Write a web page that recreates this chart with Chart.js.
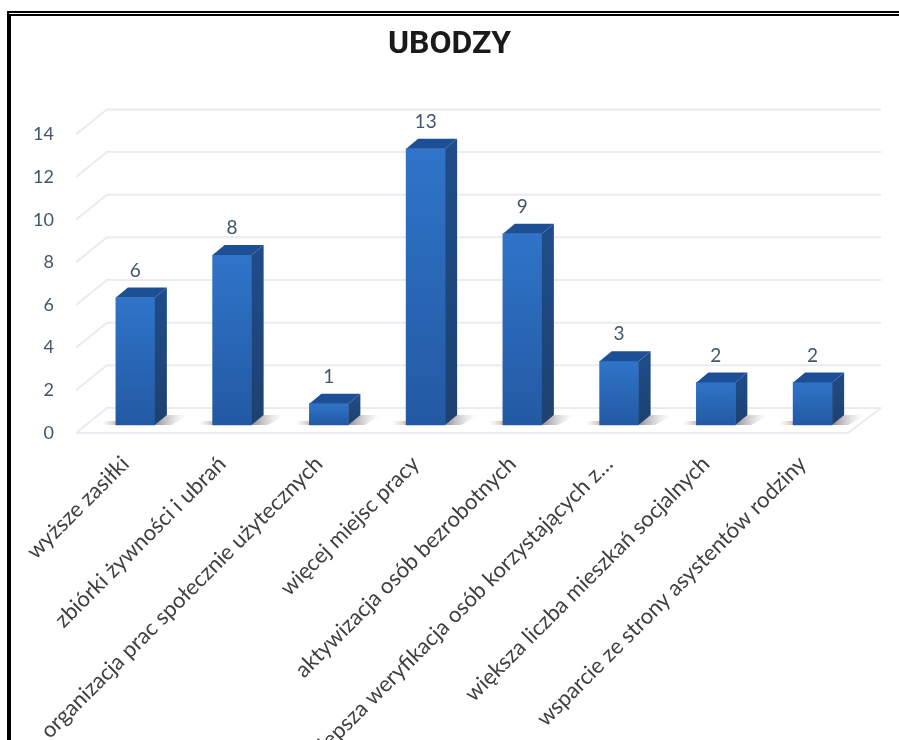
<!DOCTYPE html>
<html>
<head>
<meta charset="utf-8">
<style>
    body { margin: 0; background: #fff; overflow: hidden; }
    #frame { position: absolute; left: 7px; top: 11px; right: -10px; bottom: -10px; border-left: 4px solid #000; border-top: 5px double #000; }
    canvas { position: absolute; left: 0; top: 0; filter: blur(0.4px); }
</style>
<script src="https://cdn.jsdelivr.net/npm/chart.js@4"></script>
</head>
<body>
<canvas id="myChart" width="899" height="740"></canvas>
<div id="frame"></div>
<script>
const kategorie = [
    'wyższe zasiłki',
    'zbiórki żywności i ubrań',
    'organizacja prac społecznie użytecznych',
    'więcej miejsc pracy',
    'aktywizacja osób bezrobotnych',
    'lepsza weryfikacja osób korzystających z…',
    'większa liczba mieszkań socjalnych',
    'wsparcie ze strony asystentów rodziny'
];
const wartosci = [6, 8, 1, 13, 9, 3, 2, 2];
const tytul = 'UBODZY';
const maxOs = 14;
const krokOs = 2;

// walls and bar sides are not in chart.js, drawn here from the scales
const scena3d = {
    id: 'scena3d',
    beforeDatasetsDraw(chart) {
        const ctx = chart.ctx;
        const osY = chart.scales.y;
        const lewo = 76, tylLewo = 107, tylPrawo = 881, przodPrawo = 848, glebokosc = 25;

        ctx.save();
        ctx.strokeStyle = '#e9ebf3';
        ctx.lineWidth = 2;
        osY.ticks.forEach(function (t) {
            const y = osY.getPixelForValue(t.value);
            ctx.beginPath();
            ctx.moveTo(lewo, y);
            ctx.lineTo(tylLewo, y - glebokosc);
            ctx.lineTo(tylPrawo, y - glebokosc);
            ctx.stroke();
        });
        const y0 = osY.getPixelForValue(0);
        ctx.beginPath();
        ctx.moveTo(lewo, y0);
        ctx.lineTo(przodPrawo, y0);
        ctx.lineTo(tylPrawo, y0 - glebokosc);
        ctx.stroke();

        // bar shadows on the floor
        chart.getDatasetMeta(0).data.forEach(function (bar) {
            const p = bar.x + bar.width / 2;
            const g = ctx.createLinearGradient(p, 0, p + 32, 0);
            g.addColorStop(0, 'rgba(70,60,70,0.6)');
            g.addColorStop(1, 'rgba(190,180,180,0)');
            ctx.fillStyle = g;
            ctx.beginPath();
            ctx.moveTo(p, bar.base);
            ctx.lineTo(p + 11, bar.base - 10);
            ctx.lineTo(p + 34, bar.base - 10);
            ctx.lineTo(p + 16, bar.base);
            ctx.closePath();
            ctx.fill();

            const l = bar.x - bar.width / 2;
            const g2 = ctx.createLinearGradient(l - 14, 0, l, 0);
            g2.addColorStop(0, 'rgba(210,190,170,0)');
            g2.addColorStop(1, 'rgba(170,150,130,0.6)');
            ctx.fillStyle = g2;
            ctx.fillRect(l - 14, bar.base - 4, 14, 4);
        });
        ctx.restore();
    },
    afterDatasetsDraw(chart) {
        const ctx = chart.ctx;
        const dx = 12, dy = 10;

        ctx.save();
        chart.getDatasetMeta(0).data.forEach(function (bar, i) {
            const l = bar.x - bar.width / 2;
            const r = bar.x + bar.width / 2;

            ctx.fillStyle = '#1c4f96';
            ctx.beginPath();
            ctx.moveTo(l, bar.y);
            ctx.lineTo(l + dx, bar.y - dy);
            ctx.lineTo(r + dx, bar.y - dy);
            ctx.lineTo(r, bar.y);
            ctx.closePath();
            ctx.fill();

            const g = ctx.createLinearGradient(0, bar.y - dy, 0, bar.base);
            g.addColorStop(0, '#1f4d8a');
            g.addColorStop(1, '#1d4170');
            ctx.fillStyle = g;
            ctx.beginPath();
            ctx.moveTo(r, bar.y);
            ctx.lineTo(r + dx, bar.y - dy);
            ctx.lineTo(r + dx, bar.base - dy);
            ctx.lineTo(r, bar.base);
            ctx.closePath();
            ctx.fill();

            ctx.fillStyle = '#44546a';
            ctx.font = '19px Lato';
            ctx.textAlign = 'center';
            ctx.textBaseline = 'middle';
            ctx.fillText(wartosci[i], bar.x, bar.y - 27);
        });
        ctx.restore();
    }
};

function gradientSlupka(context) {
    const area = context.chart.chartArea;
    if (!area) return '#2a68b8';
    const os = context.chart.scales.ySlupki;
    const g = context.chart.ctx.createLinearGradient(0, os.getPixelForValue(context.raw), 0, os.getPixelForValue(0));
    g.addColorStop(0, '#2f74c9');
    g.addColorStop(1, '#2359a3');
    return g;
}

const myChart = new Chart(document.getElementById('myChart'), {
    type: 'bar',
    data: {
        labels: kategorie,
        datasets: [{
            data: wartosci,
            yAxisID: 'ySlupki',
            backgroundColor: gradientSlupka,
            barThickness: 39,
            borderWidth: 0
        }]
    },
    plugins: [scena3d],
    options: {
        responsive: false,
        animation: false,
        layout: { padding: { top: 26, right: 0, bottom: 0, left: 0 } },
        plugins: {
            legend: { display: false },
            tooltip: { enabled: false },
            title: {
                display: true,
                text: tytul,
                color: '#1a1a1a',
                font: { family: 'Roboto', size: 32, weight: 'bold' },
                padding: { top: 0, bottom: 70 }
            }
        },
        scales: {
            x: {
                grid: { display: false },
                border: { display: false },
                afterFit(scale) { scale.height = 307; },
                ticks: {
                    autoSkip: false,
                    minRotation: 45,
                    maxRotation: 45,
                    padding: 10,
                    labelOffset: -10,
                    color: '#404040',
                    font: { family: 'Lato', size: 22 }
                }
            },
            y: {
                min: 0,
                max: maxOs,
                grid: { display: false, drawTicks: false },
                border: { display: false },
                afterFit(scale) { scale.width = 87; },
                ticks: {
                    stepSize: krokOs,
                    padding: 33,
                    color: '#44546a',
                    font: { family: 'Lato', size: 18 }
                }
            },
            // front faces sit a little above the front edge of the floor
            ySlupki: {
                position: 'right',
                min: -0.38,
                max: 13.68,
                grid: { display: false, drawTicks: false },
                border: { display: false },
                ticks: { display: false },
                afterFit(scale) { scale.width = 38; }
            }
        }
    }
});
</script>
</body>
</html>
